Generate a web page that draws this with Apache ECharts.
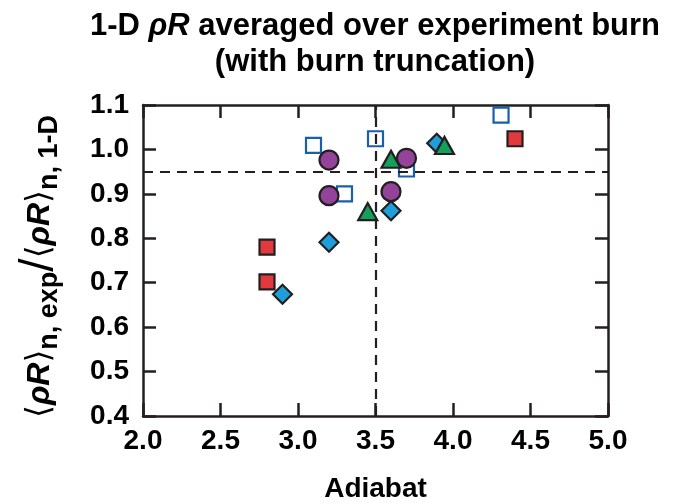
<!DOCTYPE html>
<html><head><meta charset="utf-8">
<script src="https://cdn.jsdelivr.net/npm/echarts@6/dist/echarts.min.js"></script>
<style>html,body{margin:0;padding:0;background:#fff}#c{width:673px;height:504px}</style>
</head><body><div id="c"></div>
<script>
const xTicks = [2.0, 2.5, 3.0, 3.5, 4.0, 4.5, 5.0];
const yTicks = [0.4, 0.5, 0.6, 0.7, 0.8, 0.9, 1.0, 1.1];
const openSquares = [[3.10, 1.009], [3.30, 0.900], [3.50, 1.024], [3.70, 0.956], [4.31, 1.077]];
const redSquares = [[4.40, 1.024], [2.80, 0.780], [2.80, 0.702]];
const diamonds = [[2.90, 0.674], [3.20, 0.791], [3.60, 0.862], [3.895, 1.014]];
const triangles = [[3.45, 0.860], [3.60, 0.978], [3.945, 1.009]];
const circles = [[3.20, 0.976], [3.20, 0.896], [3.60, 0.905], [3.70, 0.980]];
const thresholdX = 3.5, thresholdY = 0.95;

const ink = '#231f20';
const F = 'Liberation Sans, Arial, Helvetica, sans-serif';
const chart = echarts.init(document.getElementById('c'));
const axisCommon = {
  axisLine: {show: true, lineStyle: {color: ink, width: 2.5}},
  axisTick: {show: true, inside: true, length: 13, lineStyle: {color: ink, width: 2.5}},
  splitLine: {show: false}
};
function sc(name, data, symbol, size, fill, stroke, bw) {
  return {type: 'scatter', name, data, symbol, symbolSize: size, xAxisIndex: 0, yAxisIndex: 0,
    itemStyle: {color: fill, borderColor: stroke, borderWidth: bw, opacity: 1}, z: 3};
}
chart.setOption({
  animation: false,
  grid: {left: 143, top: 105, right: 65, bottom: 88, containLabel: false, outerBoundsMode: 'none'},
  graphic: [
    {type: 'text', x: 375, y: 11, style: {text: '{t|1-D }{ti|ρR}{t| averaged over experiment burn}', textAlign: 'center',
      rich: {t: {font: 'bold 31px ' + F, fill: '#000'}, ti: {font: 'italic bold 31px ' + F, fill: '#000'}}}},
    {type: 'text', x: 375, y: 47, style: {text: '(with burn truncation)', textAlign: 'center', font: 'bold 31px ' + F, fill: '#000'}}
  ],
  xAxis: [
    Object.assign({type: 'value', min: 2.0, max: 5.0, interval: 0.5, position: 'bottom',
      name: 'Adiabat', nameLocation: 'middle', nameGap: 59,
      nameTextStyle: {fontFamily: F, fontWeight: 'bold', fontSize: 28, color: '#000'},
      axisLabel: {fontFamily: F, fontWeight: 'bold', fontSize: 28, color: '#000', margin: 11,
        formatter: v => v.toFixed(1)}}, axisCommon),
    Object.assign({type: 'value', min: 2.0, max: 5.0, interval: 0.5, position: 'top', axisLabel: {show: false}}, axisCommon)
  ],
  yAxis: [
    Object.assign({type: 'value', min: 0.4, max: 1.1, interval: 0.1, position: 'left',
      name: '{b|⟨}{i|ρR}{b|⟩}{s|n, exp}{sl|/}{b|⟨}{i|ρR}{b|⟩}{s|n, 1-D}',
      nameLocation: 'middle', nameGap: 80, nameRotate: 90,
      nameTextStyle: {color: '#000', padding: [0, 12, 0, 0], rich: {
        b: {fontFamily: 'DejaVu Sans', fontSize: 33, color: '#000', lineHeight: 46, verticalAlign: 'middle'},
        i: {fontFamily: F, fontStyle: 'italic', fontWeight: 'bold', fontSize: 32, color: '#000', lineHeight: 46, verticalAlign: 'middle'},
        s: {fontFamily: F, fontWeight: 'bold', fontSize: 27, color: '#000', lineHeight: 46, verticalAlign: 'bottom'},
        sl: {fontFamily: F, fontSize: 48, color: '#000', lineHeight: 46, verticalAlign: 'middle'}
      }},
      axisLabel: {fontFamily: F, fontWeight: 'bold', fontSize: 28, color: '#000', margin: 14,
        formatter: v => v.toFixed(1)}}, axisCommon),
    Object.assign({type: 'value', min: 0.4, max: 1.1, interval: 0.1, position: 'right', axisLabel: {show: false}}, axisCommon)
  ],
  series: [
    {type: 'scatter', data: [], markLine: {silent: true, symbol: 'none', label: {show: false},
      lineStyle: {color: ink, type: [10, 7], width: 2.2},
      data: [{xAxis: thresholdX}, {yAxis: thresholdY}]}, z: 2},
    sc('open', openSquares, 'rect', 15, '#fff', '#1a5fad', 2.2),
    sc('red', redSquares, 'rect', 15, '#e03a3e', ink, 2.2),
    sc('diamond', diamonds, 'diamond', [19, 19], '#1e9fdb', ink, 2.2),
    sc('triangle', triangles, 'triangle', [19, 17], '#12a05a', ink, 2.2),
    sc('circle', circles, 'circle', 19, '#93449a', ink, 2.2)
  ]
});
</script></body></html>
